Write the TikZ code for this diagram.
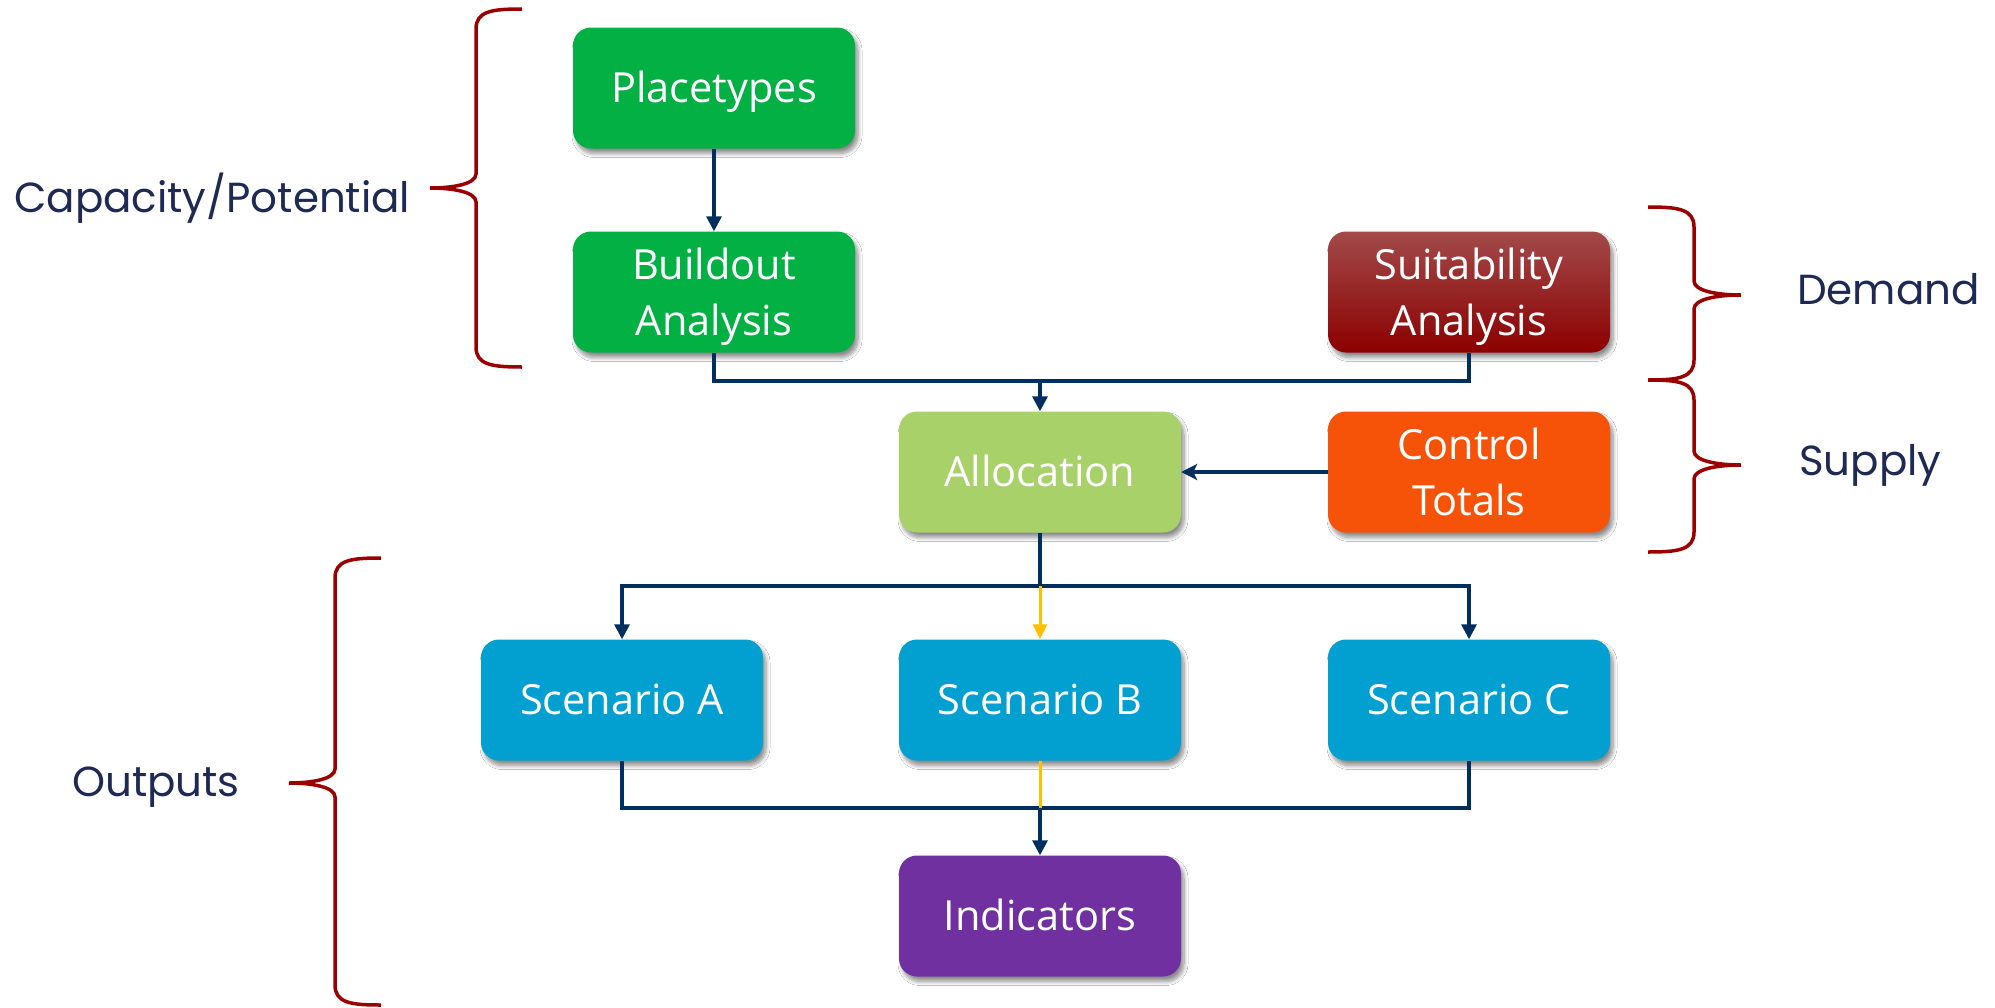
\documentclass[tikz,border=0pt]{standalone}
\usepackage{fontspec}
\newfontfamily\boxfont{Open Sans}
\newfontfamily\labfont{Poppins}
\usetikzlibrary{arrows.meta,shadows.blur}
\definecolor{navy}{RGB}{0,47,95}
\definecolor{labnavy}{RGB}{30,42,84}
\definecolor{bracered}{RGB}{155,0,0}
\definecolor{gplace}{RGB}{3,176,67}
\definecolor{suittop}{RGB}{162,74,74}
\definecolor{suitmid}{RGB}{152,0,0}
\definecolor{suitbot}{RGB}{140,0,0}
\definecolor{ctrlor}{RGB}{246,82,8}
\definecolor{allocg}{RGB}{168,209,106}
\definecolor{scenb}{RGB}{1,160,209}
\definecolor{indp}{RGB}{112,48,160}
\definecolor{ylw}{RGB}{255,192,0}
\newcommand\tstrut{\rule{0pt}{41.5pt}}
\newcommand\mybrace[6]{%
  \draw[bracestyle] (#1,#4) .. controls ({#2+0.35*(#1-#2)},#4) and (#2,{#4+2}) .. (#2,{#4+20})
   -- (#2,{#5-14}) .. controls (#2,{#5-4}) and ({#2+0.5*(#3-#2)},#5) .. (#3,#5)
   .. controls ({#2+0.5*(#3-#2)},#5) and (#2,{#5+4}) .. (#2,{#5+14})
   -- (#2,{#6-20}) .. controls (#2,{#6-2}) and ({#2+0.35*(#1-#2)},#6) .. (#1,#6);}
\tikzset{
  box/.style={rounded corners=18pt, minimum width=282pt, minimum height=121pt,
    inner sep=0pt, text=white, align=center,
    font=\boxfont\fontsize{41.5}{56}\selectfont,
    blur shadow={shadow xshift=3pt, shadow yshift=-5pt, shadow blur radius=4pt, shadow blur steps=8, shadow opacity=45}},
  one/.style={text height=29pt, text depth=0pt},
  lab/.style={text=labnavy, font=\labfont\fontsize{42}{50}\selectfont, inner sep=0pt},
  conn/.style={draw=navy, line width=3.2pt},
  arr/.style={conn, -{Triangle[length=15pt,width=15pt]}},
  yconn/.style={draw=ylw, line width=3pt},
  bracestyle/.style={draw=bracered, line width=3.5pt},
}
\begin{document}
\begin{tikzpicture}[x=1pt,y=-1pt]
\useasboundingbox[fill=white] (0,0) rectangle (1995,1007);
% boxes
\node[box, one, fill=gplace] (place) at (714,88) {Placetypes};
\node[box, fill=gplace] (build) at (714,292) {\tstrut Buildout\\Analysis};
\node[box, top color=suittop, middle color=suitmid, bottom color=suitbot] (suit) at (1469,292) {\tstrut Suitability\\Analysis};
\node[box, one, fill=allocg] (alloc) at (1040,472) {Allocation};
\node[box, fill=ctrlor] (ctrl) at (1469,472) {Control\\Totals};
\node[box, one, fill=scenb] (scA) at (622,700) {Scenario A};
\node[box, one, fill=scenb] (scB) at (1040,700) {Scenario B};
\node[box, one, fill=scenb] (scC) at (1469,700) {Scenario C};
\node[box, one, fill=indp] (ind) at (1040,916) {Indicators};
% junctions
\coordinate (j1) at (1040,381);
\coordinate (j2) at (1040,586);
\coordinate (j3) at (1040,808);
% connectors
\draw[arr] (place.south) -- (build.north);
\draw[conn] (build.south) |- (j1) -| (suit.south);
\draw[arr] (j1) -- (alloc.north);
\draw[draw=navy, line width=4pt, -{Stealth[length=16pt,width=16pt,inset=4pt]}] (ctrl.west) -- (alloc.east);
\draw[conn] (alloc.south) -- (j2);
\draw[arr] (j2) -| (scA.north);
\draw[arr] (j2) -| (scC.north);
\draw[yconn, -{Triangle[length=15pt,width=14pt]}] (j2) -- (scB.north);
\draw[conn] (scA.south) |- (j3) -| (scC.south);
\draw[yconn] (scB.south) -- (j3);
\draw[arr] (j3) -- (ind.north);
% braces
\mybrace{522}{476}{430}{9}{188}{367}
\mybrace{381}{335}{289}{558}{783}{1005}
\mybrace{1648}{1694}{1741}{207}{295}{380}
\mybrace{1648}{1694}{1741}{380}{465}{552}
% labels
\node[lab, anchor=base west] (lcap) at (14,212) {Capacity/Potential};
\node[lab, anchor=base west] (ldem) at (1797,304) {Demand};
\node[lab, anchor=base west] (lsup) at (1799,475) {Supply};
\node[lab, anchor=base west] (lout) at (72,796) {Outputs};
\end{tikzpicture}
\end{document}
